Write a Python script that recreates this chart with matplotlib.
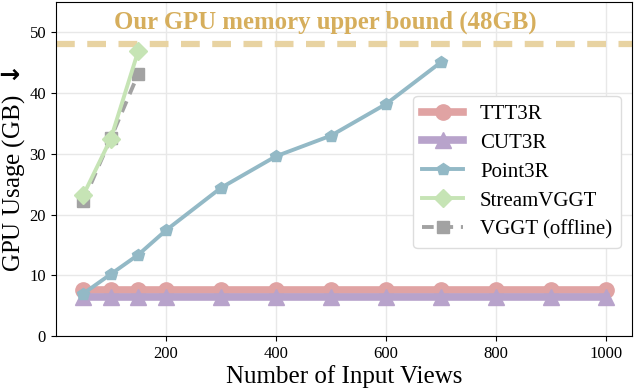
import matplotlib.pyplot as plt

plt.rcParams['font.family'] = ['Liberation Serif', 'DejaVu Serif']
plt.rcParams['mathtext.fontset'] = 'dejavusans'

views = [50, 100, 150, 200, 300, 400, 500, 600, 700, 800, 900, 1000]
ttt3r = [7.6] * 12
cut3r = [6.4] * 12
point3r_views = [50, 100, 150, 200, 300, 400, 500, 600, 700]
point3r = [7.0, 10.2, 13.4, 17.4, 24.4, 29.6, 33.0, 38.2, 45.1]
short_views = [50, 100, 150]
streamvggt = [23.2, 32.5, 47.0]
vggt = [22.2, 32.6, 43.2]
gpu_limit = 48

fig = plt.figure(figsize=(6.34, 3.89), dpi=100)
ax = fig.add_axes([0.088, 0.136, 0.909, 0.859])

ax.axhline(gpu_limit, color="#e8d3a2", lw=4.5, ls=(0, (3, 2)), zorder=1)
ax.text(490, 51.6, "Our GPU memory upper bound (48GB)", color="#d6ae5c",
        fontsize=17.8, fontweight="bold", ha="center", va="center")

ax.plot(views, ttt3r, color="#e0a3a3", lw=5.5, marker="o", ms=11, label="TTT3R", zorder=3)
ax.plot(views, cut3r, color="#b8a3cb", lw=5.5, marker="^", ms=11, label="CUT3R", zorder=3)
ax.plot(point3r_views, point3r, color="#93b9c6", lw=2.8, marker="p", ms=9, label="Point3R", zorder=4)
ax.plot(short_views, streamvggt, color="#c6e4b5", lw=2.8, marker="D", ms=9, label="StreamVGGT", zorder=5)
ax.plot(short_views, vggt, color="#a2a2a2", lw=2.8, ls=(0, (3, 2)), marker="s", ms=8,
        label="VGGT (offline)", zorder=4)

ax.set_xlim(0, 1047)
ax.set_ylim(0, 55)
ax.set_xticks([200, 400, 600, 800, 1000])
ax.set_yticks([0, 10, 20, 30, 40, 50])
ax.tick_params(labelsize=12)
ax.grid(True, color="#e8e8e8", lw=1)
ax.set_axisbelow(True)
ax.set_xlabel("Number of Input Views", fontsize=18, labelpad=2)
ax.set_ylabel(r"GPU Usage (GB) $\mathbf{\downarrow}$", fontsize=18)
ax.yaxis.set_label_coords(-0.05, 0.5)

ax.legend(loc="upper right", bbox_to_anchor=(0.998, 0.75), fontsize=15,
          handlelength=2.0, labelspacing=0.45, borderpad=0.4, handletextpad=0.8,
          framealpha=1, edgecolor="#dddddd")

fig.savefig("out.png", dpi=100)
